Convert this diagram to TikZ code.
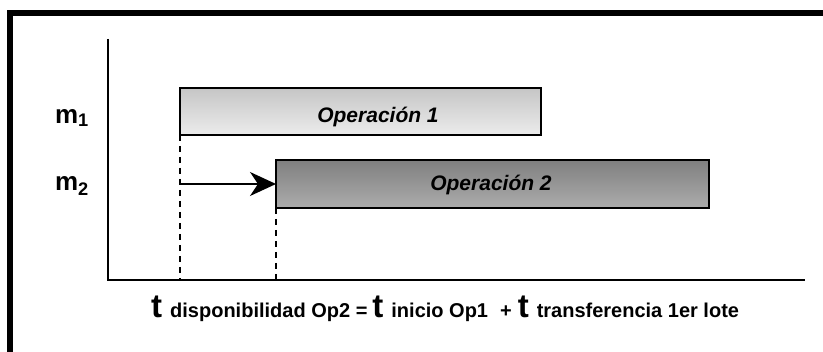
\documentclass[tikz,border=0pt]{standalone}
\usepackage{fontspec}
\setmainfont{Liberation Sans}
\usetikzlibrary{arrows.meta}
\newcommand{\bigT}{{\bfseries\fontsize{33}{36}\selectfont t}\hspace{8pt}}
\newcommand{\subtxt}[1]{{\bfseries\fontsize{20}{22}\selectfont #1}}
\begin{document}
\begin{tikzpicture}[x=1pt,y=-1pt,
  oplight/.style={draw=black,line width=2.6pt,top color=gray!45,bottom color=gray!15},
  opdark/.style={draw=black,line width=2.6pt,top color=gray!100!black!100,bottom color=gray!65},
  guide/.style={line width=1.2pt,dash pattern=on 6pt off 5pt},
  axisline/.style={line width=1.7pt},
  machine/.style={font=\bfseries\fontsize{26}{28}\selectfont},
  oplabel/.style={font=\bfseries\itshape\fontsize{21}{24}\selectfont}]
\useasboundingbox (0,0) rectangle (823,352);
\clip (0,0) rectangle (823,352);
\fill[white] (0,0) rectangle (823,352);
% outer frame
\draw[line width=6pt] (9.5,360) -- (9.5,13) -- (840,13);
% axes
\coordinate (ytop) at (108,39);
\coordinate (origin) at (108,280);
\coordinate (xend) at (805,280);
\draw[axisline] (ytop) -- (origin) -- (xend);
% operation bars
\path[oplight] (180,88) rectangle (541,135);
\path[opdark] (276,160) rectangle (709,208);
\node[oplabel] (op1) at (378,117) {Operación 1};
\node[oplabel] (op2) at (491,185) {Operación 2};
% machine labels
\node[machine] (m1) at (72,118) {m$_{\mathbf 1}$};
\node[machine] (m2) at (72,186) {m$_{\mathbf 2}$};
% guide lines and transfer arrow
\coordinate (g1top) at (180,135);
\coordinate (g1bot) at (180,280);
\coordinate (g2top) at (276,208);
\coordinate (g2bot) at (276,280);
\draw[guide] (g1top) -- (g1bot);
\draw[guide] (g2top) -- (g2bot);
\coordinate (astart) at (180,184);
\coordinate (aend) at (276,184);
\draw[line width=1.7pt,-{Stealth[length=26pt,width=24pt,inset=8pt]}] (astart) -- (aend);
% formula
\node[anchor=base west,inner sep=0pt] (formula) at (151,318) {%
  \bigT\subtxt{disponibilidad Op2 =\hspace{5pt}}%
  \bigT\subtxt{inicio Op1\hspace{12pt}+\hspace{6pt}}%
  \bigT\subtxt{transferencia 1er lote}};
\end{tikzpicture}
\end{document}
